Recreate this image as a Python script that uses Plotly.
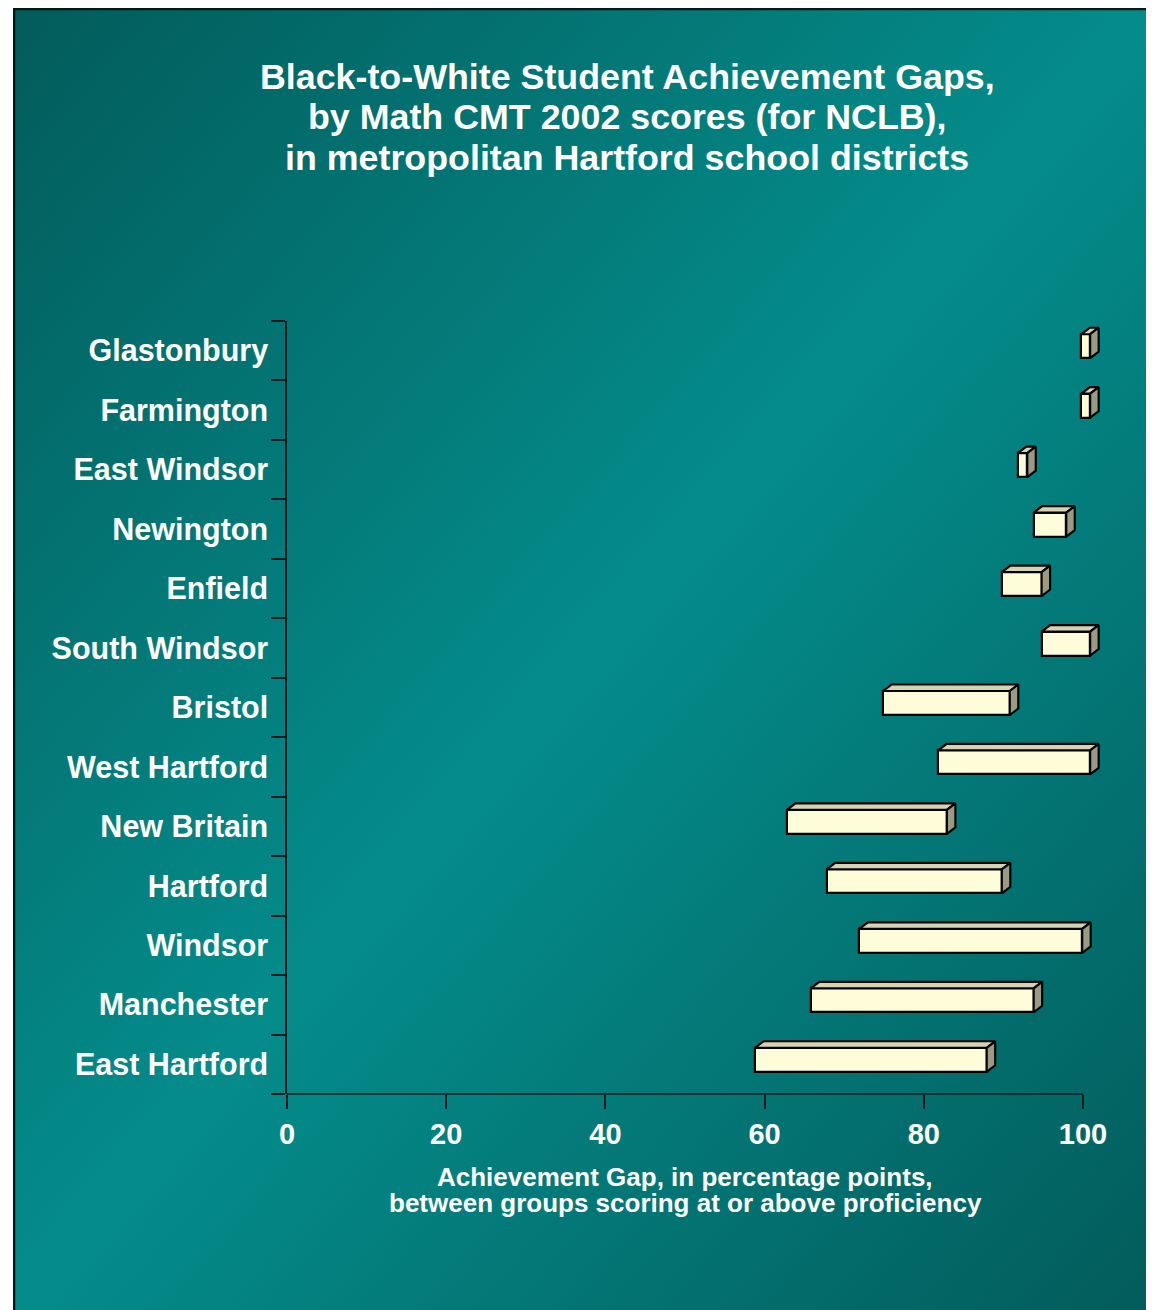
import base64
import plotly.graph_objects as go

# ---------------- data ----------------
districts = ["Glastonbury", "Farmington", "East Windsor", "Newington", "Enfield",
             "South Windsor", "Bristol", "West Hartford", "New Britain", "Hartford",
             "Windsor", "Manchester", "East Hartford"]
gap_start = [99.8, 99.8, 91.8, 93.8, 89.8, 94.8, 74.9, 81.8, 62.8, 67.8, 71.9, 65.8, 58.8]
gap_end = [100.9, 100.9, 93.0, 97.9, 94.8, 100.9, 90.8, 100.9, 82.9, 89.8, 99.9, 93.8, 87.9]
x_ticks = [0, 20, 40, 60, 80, 100]

title_lines = ["Black-to-White Student Achievement Gaps,",
               "by Math CMT 2002 scores (for NCLB),",
               "in metropolitan Hartford school districts"]
xtitle_lines = ["Achievement Gap, in percentage points,",
                "between groups scoring at or above proficiency"]

# ---------------- style ----------------
FONT = "Liberation Sans, Arial, Helvetica, sans-serif"
FRONT = "#FFFDD9"
TOP = "#D6D2B4"
SIDE = "#9C9A82"
EDGE = "#050505"
AXIS = "#0A1C1C"

OFF = 8  # page body margin of the html output
W, H = 1154 - OFF, 1310 - OFF
ML, MT = 287 - OFF, 321 - OFF
plot_right = 1105 - OFF
plot_bottom = 1094 - OFF
MR, MB = W - plot_right, H - plot_bottom
plot_w = W - ML - MR
plot_h = H - MT - MB
px_per_x = 7.96
xmax = plot_w / px_per_x
n = len(districts)
band_px = plot_h / n

bar_w = 24 / band_px          # front face thickness (category units)
y_shift = -4.5 / band_px      # front face slightly above band centre
dx = 8.5 / px_per_x           # depth offset, x units
dy = 6.5 / band_px            # depth offset, category units

pos = list(range(n))
yc = [p + y_shift for p in pos]

fig = go.Figure()

# front faces
fig.add_trace(go.Bar(
    orientation="h",
    y=yc,
    base=gap_start,
    x=[e - s for s, e in zip(gap_start, gap_end)],
    width=bar_w,
    marker=dict(color=FRONT, line=dict(color=EDGE, width=2.2)),
    hoverinfo="skip",
    showlegend=False,
))

# top and side faces (3-D look)
top_x, top_y, side_x, side_y = [], [], [], []
for s, e, c in zip(gap_start, gap_end, yc):
    yt = c - bar_w / 2
    yb = c + bar_w / 2
    top_x += [s, s + dx, e + dx, e, s, None]
    top_y += [yt, yt - dy, yt - dy, yt, yt, None]
    side_x += [e, e + dx, e + dx, e, e, None]
    side_y += [yt, yt - dy, yb - dy, yb, yt, None]

fig.add_trace(go.Scatter(x=top_x, y=top_y, mode="lines", fill="toself",
                         fillcolor=TOP, line=dict(color=EDGE, width=2.2),
                         hoverinfo="skip", showlegend=False, cliponaxis=False))
fig.add_trace(go.Scatter(x=side_x, y=side_y, mode="lines", fill="toself",
                         fillcolor=SIDE, line=dict(color=EDGE, width=2.2),
                         hoverinfo="skip", showlegend=False, cliponaxis=False))

# ---------------- background (gradient panel) ----------------
panel_x0 = 13 - OFF
bw, bh = W - panel_x0, H
svg = (f'<svg xmlns="http://www.w3.org/2000/svg" width="{bw}" height="{bh}" '
       f'viewBox="0 0 {bw} {bh}" preserveAspectRatio="none">'
       '<defs><linearGradient id="g" x1="0" y1="0" x2="1" y2="1">'
       '<stop offset="0" stop-color="#025C5B"/>'
       '<stop offset="0.5" stop-color="#048C8B"/>'
       '<stop offset="1" stop-color="#025C5B"/>'
       '</linearGradient></defs>'
       f'<rect x="0" y="0" width="{bw}" height="{bh}" fill="url(#g)"/>'
       f'<path d="M1,{bh} L1,1 L{bw},1" stroke="#061616" stroke-width="2.5" fill="none"/>'
       '</svg>')
src = "data:image/svg+xml;base64," + base64.b64encode(svg.encode()).decode()


def px_to_paper_x(px):
    return (px - OFF - ML) / plot_w


def px_to_paper_y(py):
    return (plot_bottom - (py - OFF)) / plot_h


annotations = []
for line, ypx in zip(title_lines, [77, 117, 158]):
    annotations.append(dict(text=line, xref="paper", yref="paper",
                            x=px_to_paper_x(627), y=px_to_paper_y(ypx),
                            xanchor="center", yanchor="middle", showarrow=False,
                            font=dict(family=FONT, size=35.8, color="white", weight="bold")))
for line, ypx in zip(xtitle_lines, [1177, 1203]):
    annotations.append(dict(text=line, xref="paper", yref="paper",
                            x=px_to_paper_x(685), y=px_to_paper_y(ypx),
                            xanchor="center", yanchor="middle", showarrow=False,
                            font=dict(family=FONT, size=26, color="white", weight="bold")))

fig.update_layout(
    width=W, height=H,
    margin=dict(l=ML, r=MR, t=MT, b=MB, pad=0),
    paper_bgcolor="white",
    plot_bgcolor="rgba(0,0,0,0)",
    showlegend=False,
    bargap=0,
    images=[dict(source=src, xref="paper", yref="paper",
                 x=(panel_x0 - ML) / plot_w, y=(plot_bottom - 0) / plot_h,
                 sizex=bw / plot_w, sizey=bh / plot_h,
                 xanchor="left", yanchor="top", sizing="stretch", layer="below")],
    annotations=annotations,
    shapes=[dict(type="line", xref="x", yref="paper", x0=0, x1=100, y0=0, y1=0,
                 line=dict(color=AXIS, width=1.5))],
    xaxis=dict(range=[0, xmax], tickvals=x_ticks, ticks="outside", ticklen=14,
               tickcolor=AXIS, tickwidth=1.5, showline=False, zeroline=False,
               showgrid=False,
               tickfont=dict(family=FONT, size=29, color="white", weight="bold")),
    yaxis=dict(range=[n - 0.5, -0.5], tickvals=pos, ticktext=districts,
               ticks="outside", ticklen=11, tickcolor="rgba(0,0,0,0)",
               showline=True, linecolor=AXIS, linewidth=1.5,
               zeroline=False, showgrid=False,
               minor=dict(tick0=-0.5, dtick=1, ticks="outside", ticklen=14,
                          tickcolor=AXIS, tickwidth=1.5, showgrid=False),
               tickfont=dict(family=FONT, size=30.5, color="white", weight="bold")),
)

fig.write_html("out.html")
